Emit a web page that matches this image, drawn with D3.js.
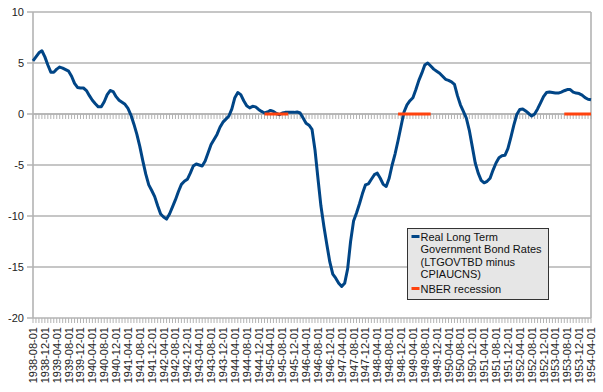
<!DOCTYPE html>
<html><head><meta charset="utf-8">
<script src="https://cdn.jsdelivr.net/npm/d3@7"></script>
<style>body{margin:0;background:#fff}svg{display:block;font-family:"Liberation Sans",Arial,sans-serif}</style>
</head><body><svg id="c" width="603" height="392"></svg>
<script>
// monthly categories 1938-08-01 .. 1954-04-01
const startMonth = "1938-08-01", endMonth = "1954-04-01";
const realRates = [
 5.2,5.6,6.0,6.2,5.6,4.8,4.1,4.1,4.4,4.6,4.5,4.35,4.2,3.7,3.0,2.6,2.55,2.55,2.3,1.8,
 1.35,1.0,0.7,0.7,1.2,1.9,2.3,2.2,1.7,1.35,1.15,0.95,0.55,-0.1,-1.0,-2.0,-3.2,-4.6,-5.9,-6.95,
 -7.5,-8.1,-9.0,-9.8,-10.1,-10.3,-9.8,-9.1,-8.4,-7.6,-6.9,-6.6,-6.4,-5.8,-5.1,-4.9,-5.0,-5.1,-4.6,-3.8,
 -3.0,-2.5,-2.0,-1.3,-0.8,-0.5,-0.2,0.5,1.6,2.1,1.9,1.3,0.8,0.6,0.75,0.7,0.45,0.25,0.1,0.2,
 0.35,0.25,0.05,-0.07,0.1,0.16,0.16,0.16,0.16,0.2,0.1,-0.4,-0.9,-1.1,-1.5,-3.5,-6.3,-9.0,-11.0,-12.8,
 -14.5,-15.7,-16.1,-16.6,-16.9,-16.6,-15.2,-12.5,-10.5,-9.7,-8.8,-7.8,-6.95,-6.85,-6.4,-5.95,-5.8,-6.3,-6.9,-7.1,
 -6.3,-5.0,-3.9,-2.6,-1.2,0.2,0.9,1.3,1.6,2.4,3.3,4.0,4.8,5.0,4.7,4.4,4.2,4.0,3.7,3.4,
 3.3,3.15,2.9,1.8,0.9,0.25,-0.4,-1.6,-3.2,-4.8,-5.8,-6.5,-6.75,-6.6,-6.3,-5.5,-4.8,-4.3,-4.1,-4.05,
 -3.4,-2.3,-1.1,-0.05,0.45,0.5,0.3,0.05,-0.2,0.0,0.5,1.1,1.7,2.1,2.15,2.1,2.05,2.05,2.15,2.28,
 2.4,2.4,2.15,2.05,2.0,1.85,1.6,1.45,1.4
];
const recessions = [["1945-02-01","1945-10-01"],["1948-11-01","1949-10-01"],["1953-07-01","1954-04-01"]];
const tickLabels = ["1938-08-01","1938-12-01","1939-04-01","1939-08-01","1939-12-01","1940-04-01","1940-08-01","1940-12-01",
 "1941-04-01","1941-08-01","1941-12-01","1942-04-01","1942-08-01","1942-12-01","1943-04-01","1943-08-01","1943-12-01",
 "1944-04-01","1944-08-01","1944-12-01","1945-04-01","1945-08-01","1945-12-01","1946-04-01","1946-08-01","1946-12-01",
 "1947-04-01","1947-08-01","1947-12-01","1948-04-01","1948-08-01","1948-12-01","1949-04-01","1949-08-01","1949-12-01",
 "1950-04-01","1950-08-01","1950-12-01","1951-04-01","1951-08-01","1951-12-01","1952-04-01","1952-08-01","1952-12-01",
 "1953-04-01","1953-08-01","1953-12-01","1954-04-01"];
const yTicks = [-20,-15,-10,-5,0,5,10];
const seriesNames = ["Real Long Term Government Bond Rates (LTGOVTBD minus CPIAUCNS)", "NBER recession"];
const legendLines = ["Real Long Term","Government Bond Rates","(LTGOVTBD minus","CPIAUCNS)"];

const fmt = d3.utcFormat("%Y-%m-%d"), parse = d3.utcParse("%Y-%m-%d");
const months = d3.utcMonth.range(parse(startMonth), d3.utcMonth.offset(parse(endMonth),1)).map(fmt);
const data = months.map((m,i)=>({m, v: realRates[i]}));
const recData = months.map(m=>({m, v: recessions.some(([a,b])=>m>=a && m<=b) ? 0 : null}));

const svg = d3.select("#c");
const L=33, R=591, T=12, B=318;
const x = d3.scalePoint().domain(months).range([L,R]);
const y = d3.scaleLinear().domain([-20,10]).range([B,T]);
const grid="#b3b3b3";

// gridlines
svg.append("g").selectAll("line").data(yTicks).join("line")
 .attr("x1",L-6).attr("x2",R).attr("y1",d=>y(d)).attr("y2",d=>y(d))
 .attr("stroke",grid).attr("stroke-width",1.6);
// y axis line + right border
svg.append("line").attr("x1",L).attr("x2",L).attr("y1",T).attr("y2",B).attr("stroke",grid).attr("stroke-width",1.6);
svg.append("line").attr("x1",R).attr("x2",R).attr("y1",T).attr("y2",B).attr("stroke",grid).attr("stroke-width",1.6);
// y labels
svg.append("g").selectAll("text").data(yTicks).join("text")
 .attr("x",24).attr("y",d=>y(d)+4).attr("text-anchor","end").attr("font-size",11).attr("fill","#222").text(d=>d);

// month ticks at zero line and bottom
[0,-20].forEach(v=>{
 svg.append("g").selectAll("line").data(months).join("line")
  .attr("x1",d=>x(d)).attr("x2",d=>x(d)).attr("y1",y(v)).attr("y2",y(v)+5)
  .attr("stroke",grid).attr("stroke-width",1);
});
svg.append("line").attr("x1",L).attr("x2",R).attr("y1",y(0)).attr("y2",y(0)).attr("stroke",grid).attr("stroke-width",1.6);

// x labels
svg.append("g").selectAll("text").data(tickLabels).join("text")
 .attr("transform",d=>`translate(${x(d)+4},${B+9}) rotate(-90)`)
 .attr("text-anchor","end").attr("font-size",11).attr("fill","#222").text(d=>d);

// series
const line = d3.line().defined(d=>d.v!=null).x(d=>x(d.m)).y(d=>y(d.v));
svg.append("path").datum(data).attr("d",line).attr("fill","none").attr("stroke","#004586").attr("stroke-width",3).attr("stroke-linejoin","round");
svg.append("path").datum(recData).attr("d",line).attr("fill","none").attr("stroke","#ff420e").attr("stroke-width",3);

// legend
const lg = svg.append("g").attr("transform","translate(407.5,228.5)");
lg.append("rect").attr("width",141).attr("height",71).attr("fill","#e6e6e6").attr("stroke","#333").attr("stroke-width",1);
lg.append("line").attr("x1",4).attr("x2",12).attr("y1",8).attr("y2",8).attr("stroke","#004586").attr("stroke-width",3);
lg.selectAll("text.l").data(legendLines).join("text").attr("class","l")
 .attr("x",13).attr("y",(d,i)=>12+i*12.5).attr("font-size",11).attr("fill","#111").text(d=>d);
lg.append("line").attr("x1",4).attr("x2",12).attr("y1",60).attr("y2",60).attr("stroke","#ff420e").attr("stroke-width",3);
lg.append("text").attr("x",13).attr("y",64).attr("font-size",11).attr("fill","#111").text(seriesNames[1]);
</script></body></html>
